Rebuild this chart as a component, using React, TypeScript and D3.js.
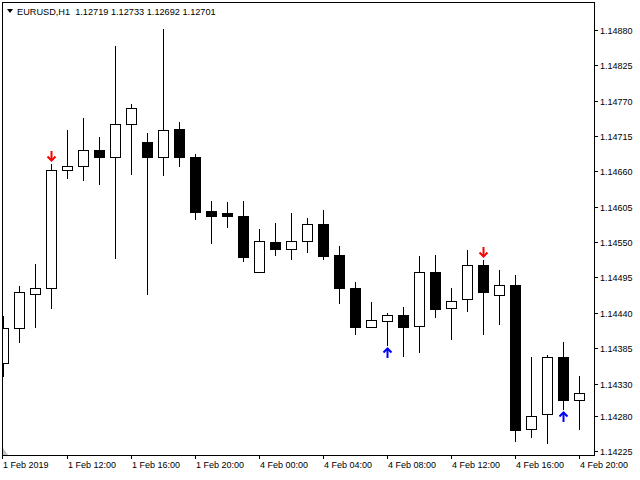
import React, { useEffect, useRef } from 'react'
import * as d3 from 'd3'

// EURUSD H1 bars, 1 Feb 2019 08:00 .. 4 Feb 2019 20:00 (weekend skipped)
const barTimes = [
  '1 Feb 08:00', '1 Feb 09:00', '1 Feb 10:00', '1 Feb 11:00', '1 Feb 12:00', '1 Feb 13:00',
  '1 Feb 14:00', '1 Feb 15:00', '1 Feb 16:00', '1 Feb 17:00', '1 Feb 18:00', '1 Feb 19:00',
  '1 Feb 20:00', '1 Feb 21:00', '1 Feb 22:00', '1 Feb 23:00', '4 Feb 00:00', '4 Feb 01:00',
  '4 Feb 02:00', '4 Feb 03:00', '4 Feb 04:00', '4 Feb 05:00', '4 Feb 06:00', '4 Feb 07:00',
  '4 Feb 08:00', '4 Feb 09:00', '4 Feb 10:00', '4 Feb 11:00', '4 Feb 12:00', '4 Feb 13:00',
  '4 Feb 14:00', '4 Feb 15:00', '4 Feb 16:00', '4 Feb 17:00', '4 Feb 18:00', '4 Feb 19:00',
  '4 Feb 20:00',
]
const opens = [
  1.14362, 1.14416, 1.1447, 1.14478, 1.14662, 1.14669, 1.14693, 1.14682, 1.14733, 1.14705,
  1.14682, 1.14726, 1.14682, 1.14598, 1.14595, 1.14591, 1.14504, 1.1455, 1.1454, 1.14551,
  1.14578, 1.1453, 1.14478, 1.14418, 1.14428, 1.14436, 1.14419, 1.14503, 1.14447, 1.14461,
  1.14514, 1.14467, 1.14484, 1.14259, 1.14283, 1.14371, 1.14305,
]
const highs = [
  1.14435, 1.14482, 1.14516, 1.14671, 1.14724, 1.14743, 1.14714, 1.14855, 1.14765, 1.1472,
  1.14882, 1.14737, 1.14687, 1.14614, 1.14612, 1.14614, 1.1457, 1.1458, 1.14595, 1.14588,
  1.146, 1.14544, 1.14488, 1.14457, 1.1444, 1.14449, 1.14528, 1.1453, 1.14479, 1.14538,
  1.14522, 1.14507, 1.14499, 1.14371, 1.14374, 1.14395, 1.14342,
]
const lows = [
  1.14342, 1.14395, 1.14418, 1.14448, 1.14649, 1.14647, 1.14641, 1.14526, 1.14656, 1.1447,
  1.14655, 1.14669, 1.14586, 1.14549, 1.14574, 1.14521, 1.14504, 1.1453, 1.14523, 1.14535,
  1.14523, 1.14456, 1.14407, 1.14418, 1.1439, 1.14373, 1.14379, 1.14434, 1.144, 1.14443,
  1.14407, 1.14423, 1.14241, 1.14247, 1.14237, 1.14291, 1.1426,
]
const closes = [
  1.14416, 1.14472, 1.14478, 1.14662, 1.14668, 1.14693, 1.14683, 1.14733, 1.14758, 1.14682,
  1.14725, 1.14682, 1.14597, 1.14591, 1.1459, 1.14527, 1.14551, 1.1454, 1.14551, 1.14578,
  1.14529, 1.14479, 1.14418, 1.14429, 1.14436, 1.14418, 1.14503, 1.14446, 1.14459, 1.14514,
  1.14472, 1.14484, 1.14258, 1.1428, 1.14371, 1.14305, 1.14315,
]
const sellSignals = ['1 Feb 11:00', '4 Feb 14:00']
const buySignals = ['4 Feb 08:00', '4 Feb 19:00']

const priceTicks = [
  1.1488, 1.14825, 1.1477, 1.14715, 1.1466, 1.14605, 1.1455, 1.14495, 1.1444, 1.14385,
  1.1433, 1.1428, 1.14225,
]
const timeTicks = [
  '1 Feb 08:00', '1 Feb 12:00', '1 Feb 16:00', '1 Feb 20:00', '4 Feb 00:00', '4 Feb 04:00',
  '4 Feb 08:00', '4 Feb 12:00', '4 Feb 16:00', '4 Feb 20:00',
]
const timeTickLabels = [
  '1 Feb 2019', '1 Feb 12:00', '1 Feb 16:00', '1 Feb 20:00', '4 Feb 00:00', '4 Feb 04:00',
  '4 Feb 08:00', '4 Feb 12:00', '4 Feb 16:00', '4 Feb 20:00',
]
const header = 'EURUSD,H1  1.12719 1.12733 1.12692 1.12701'

const FONT = "'Liberation Sans', Arial, sans-serif"

const App = (): JSX.Element => {
  const ref = useRef<SVGSVGElement>(null)

  useEffect(() => {
    document.body.style.margin = '0'
    const svg = d3.select(ref.current)
    svg.selectAll('*').remove()

    const left = 2
    const top = 2
    const right = 594
    const bottom = 455

    const x = d3.scalePoint<string>().domain(barTimes).range([3, 579])
    const y = d3.scaleLinear().domain([1.14225, 1.1488]).range([451, 30])
    const py = (v: number) => Math.round(y(v))

    svg.append('rect').attr('width', 640).attr('height', 480).attr('fill', '#ffffff')

    svg
      .append('clipPath')
      .attr('id', 'plot')
      .append('rect')
      .attr('x', left + 1)
      .attr('y', top + 1)
      .attr('width', right - left - 1)
      .attr('height', bottom - top - 1)

    const g = svg.append('g').attr('clip-path', 'url(#plot)').attr('shape-rendering', 'crispEdges')

    barTimes.forEach((t, i) => {
      const cx = x(t) as number
      const o = opens[i]
      const c = closes[i]
      g.append('line')
        .attr('x1', cx + 0.5)
        .attr('x2', cx + 0.5)
        .attr('y1', py(highs[i]))
        .attr('y2', py(lows[i]) + 1)
        .attr('stroke', '#000')
      const yt = py(Math.max(o, c))
      const yb = py(Math.min(o, c))
      g.append('rect')
        .attr('x', cx - 4.5)
        .attr('y', yt + 0.5)
        .attr('width', 10)
        .attr('height', Math.max(yb - yt, 1))
        .attr('fill', c >= o ? '#ffffff' : '#000000')
        .attr('stroke', '#000')
    })

    // signal arrows
    const arrow = (cx: number, yy: number, down: boolean, color: string) => {
      const dir = down ? 1 : -1
      const a = svg.append('g').attr('fill', 'none').attr('stroke', color).attr('stroke-width', 2)
      a.append('line')
        .attr('x1', cx + 0.5)
        .attr('x2', cx + 0.5)
        .attr('y1', yy - dir * 10)
        .attr('y2', yy - dir)
      a.append('path').attr(
        'd',
        `M${cx - 3.5},${yy - dir * 4.5}L${cx + 0.5},${yy - dir * 0.5}L${cx + 4.5},${yy - dir * 4.5}`,
      )
    }
    sellSignals.forEach(t => {
      const i = barTimes.indexOf(t)
      arrow(x(t) as number, py(highs[i]) - 3, true, '#ff0000')
    })
    buySignals.forEach(t => {
      const i = barTimes.indexOf(t)
      arrow(x(t) as number, py(lows[i]) + 3, false, '#0000ff')
    })

    // frame
    svg
      .append('rect')
      .attr('x', left + 0.5)
      .attr('y', top + 0.5)
      .attr('width', right - left)
      .attr('height', bottom - top)
      .attr('fill', 'none')
      .attr('stroke', '#000')
      .attr('shape-rendering', 'crispEdges')

    // price axis
    const ya = svg.append('g').attr('font-family', FONT).attr('font-size', 9)
    priceTicks.forEach(v => {
      const yy = py(v) + 0.5
      ya.append('line')
        .attr('x1', right)
        .attr('x2', right + 4)
        .attr('y1', yy)
        .attr('y2', yy)
        .attr('stroke', '#000')
        .attr('shape-rendering', 'crispEdges')
      ya.append('text')
        .attr('x', right + 6)
        .attr('y', yy)
        .attr('dy', '0.35em')
        .text(d3.format('.5f')(v))
    })

    // time axis
    const xa = svg.append('g').attr('font-family', FONT).attr('font-size', 9)
    timeTicks.forEach((t, i) => {
      const xx = i === 0 ? left : (x(t) as number)
      xa.append('line')
        .attr('x1', xx + 0.5)
        .attr('x2', xx + 0.5)
        .attr('y1', bottom)
        .attr('y2', bottom + 4)
        .attr('stroke', '#000')
        .attr('shape-rendering', 'crispEdges')
      xa.append('text')
        .attr('x', xx + 1)
        .attr('y', bottom + 13)
        .text(timeTickLabels[i])
    })

    // header
    svg.append('path').attr('d', 'M7,9L13,9L10,13Z').attr('fill', '#000')
    svg
      .append('text')
      .attr('x', 17)
      .attr('y', 15)
      .attr('font-family', FONT)
      .attr('font-size', 9.2)
      .attr('xml:space', 'preserve')
      .style('white-space', 'pre')
      .text(header)

    // scroll marker
    svg
      .append('path')
      .attr('d', `M${left + 1},${bottom - 7}L${left + 1},${bottom}L${left + 6},${bottom}Z`)
      .attr('fill', '#c0c0c0')
  }, [])

  return (
    <svg
      ref={ref}
      width={640}
      height={480}
      style={{ display: 'block', position: 'absolute', left: 0, top: 0 }}
    />
  )
}

export default App
